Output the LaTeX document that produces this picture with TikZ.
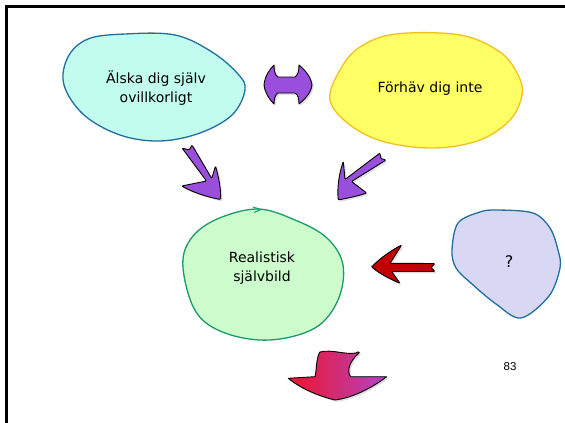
\documentclass[tikz,border=0pt]{standalone}
\usepackage{fontspec}
\setmainfont{DejaVu Sans}
\newfontfamily\numfont{Liberation Sans}
\usetikzlibrary{shadows}
\definecolor{cyanfill}{HTML}{C2FCEE}
\definecolor{bluedge}{HTML}{1F6FA0}
\definecolor{yelfill}{HTML}{FFFF66}
\definecolor{yeledge}{HTML}{F2C01E}
\definecolor{grnfill}{HTML}{CCFCCC}
\definecolor{grnedge}{HTML}{1A9A6A}
\definecolor{lavfill}{HTML}{D8D8F5}
\definecolor{arrpurple}{HTML}{9A4FDC}
\definecolor{arrred}{HTML}{C00000}
\definecolor{gradred}{HTML}{F2142A}
\definecolor{gradpurple}{HTML}{B044C4}
\begin{document}
\begin{tikzpicture}[x=1pt,y=-1pt,
  blobtext/.style={font=\fontsize{14}{19}\selectfont, align=center, text=black, inner sep=0pt},
  blob/.style={line width=1.3pt, line join=round},
  blockarrow/.style={draw=black, line width=0.9pt, line join=round,
    drop shadow={shadow xshift=1.8pt, shadow yshift=-1.8pt, opacity=0.25}}]
\useasboundingbox (0,0) rectangle (565,423);
\fill[white] (0,0) rectangle (565,423);
% frame
\draw[line width=3pt] (6,423) -- (6,6) -- (565,6);

% blobs
\draw[blob, draw=bluedge, fill=cyanfill] plot[smooth cycle, tension=0.6] coordinates
  {(64,85) (68,57) (88,39) (125,34) (175,35) (212,52) (238,74) (245,90) (232,115) (200,133) (160,141) (120,135) (84,115)};
\draw[blob, draw=yeledge, fill=yelfill] plot[smooth cycle, tension=0.6] coordinates
  {(330,100) (340,70) (360,47) (396,34) (460,35) (500,52) (518,75) (522,95) (510,120) (480,140) (435,148) (385,142) (350,125)};
\draw[blob, draw=grnedge, fill=grnfill] plot[smooth cycle, tension=0.6] coordinates
  {(183,268) (190,240) (215,220) (257,209) (295,220) (327,238) (343,265) (338,300) (315,328) (270,340) (225,333) (196,312)};
\draw[grnedge, line width=1pt] (253,207) -- (261,209.5) -- (254,212.5);
\draw[blob, draw=bluedge, fill=lavfill] plot[smooth cycle, tension=0.55] coordinates
  {(452,250) (458,223) (480,212) (497,210) (533,213) (550,228) (558,250) (560,268) (549,296) (521,318) (496,304) (472,284) (456,268)};

% texts
\node[blobtext] (love) at (156,88) {Älska dig själv\\ovillkorligt};
\node[blobtext] (boast) at (430,89) {Förhäv dig inte};
\node[blobtext] (real) at (262,268) {Realistisk\\självbild};
\node[blobtext, font=\fontsize{16}{19}\selectfont] (q) at (509,262) {?};
\node[font=\numfont\fontsize{11.5}{13}\selectfont, inner sep=0pt] (page) at (510,367) {83};

% double arrow
\path[blockarrow, fill=arrpurple]
  (264,85) .. controls (265,76) and (269,70) .. (274,65)
  .. controls (274,71) and (275,75) .. (278,77)
  -- (295,77)
  .. controls (298,75) and (299,71) .. (299,65)
  .. controls (305,70) and (311,77) .. (312,85)
  .. controls (311,93) and (305,99) .. (299,104)
  .. controls (299,98) and (298,95) .. (295,93)
  -- (278,93)
  .. controls (275,95) and (274,99) .. (274,104)
  .. controls (269,99) and (265,93) .. cycle;

% arrow from cyan blob
\path[blockarrow, fill=arrpurple, rounded corners=1pt]
  (182,148) -- (189.3,150) -- (192,145) -- (211.7,178.5) -- (215.5,166)
  .. controls (219,178) and (221,190) .. (220.5,199.5)
  .. controls (207,197) and (192,192) .. (181.7,186)
  -- (206.5,181) -- cycle;

% arrow from yellow blob
\path[blockarrow, fill=arrpurple, rounded corners=1pt]
  (380,153) -- (345,179.5) -- (343.3,161.3)
  .. controls (339,174) and (337,188) .. (338.3,200)
  .. controls (348,198) and (358,196) .. (366.7,193)
  -- (351.5,181.5) -- (386,160) -- (380.8,158.6) -- cycle;

% red arrow
\path[blockarrow, fill=arrred, rounded corners=1pt]
  (371.7,267) .. controls (380,258) and (392,250) .. (401.7,245)
  -- (390,263.3) -- (435,263.5) -- (431,267.5) -- (435,271.5)
  -- (391.7,271.5) -- (400,283.3)
  .. controls (390,279) and (380,274) .. cycle;

% bottom gradient arrow
\path[blockarrow, left color=gradred, right color=gradpurple]
  (320,352) .. controls (332,349) and (345,355) .. (356,353)
  .. controls (358,351) and (361,352) .. (358,354)
  .. controls (351,360) and (346,370) .. (350.5,376.7)
  -- (386.7,376.7)
  .. controls (372,388) and (352,398) .. (335,400)
  .. controls (318,396) and (300,388) .. (288.3,378.3)
  -- (315,376.7)
  .. controls (317,368) and (316,358) .. cycle;
\end{tikzpicture}
\end{document}
